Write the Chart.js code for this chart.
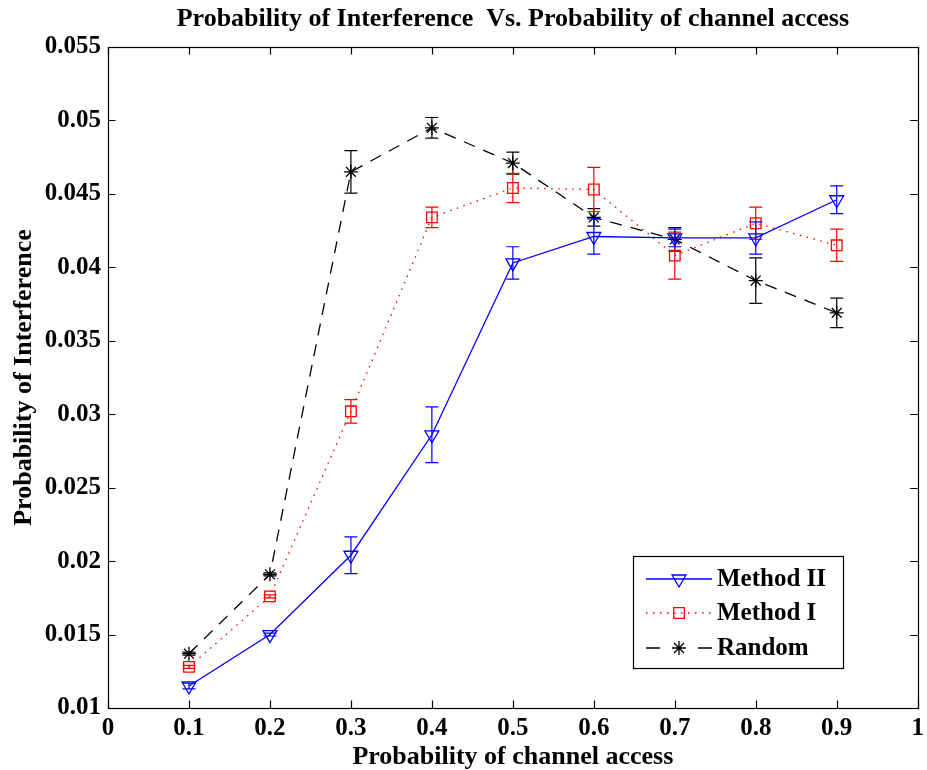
<!DOCTYPE html>
<html>
<head>
<meta charset="utf-8">
<script src="https://cdn.jsdelivr.net/npm/chart.js@4/dist/chart.umd.min.js"></script>
<style>
  html, body { margin: 0; padding: 0; background: #ffffff; }
  #wrap { width: 927px; height: 770px; }
</style>
</head>
<body>
<div id="wrap"><canvas id="chart" width="927" height="770"></canvas></div>
<script>
// Probability of channel access (x values)
const accessProb = [0.1, 0.2, 0.3, 0.4, 0.5, 0.6, 0.7, 0.8, 0.9];

// Mean probability of interference and error-bar half widths per method
const methodII    = [0.0115, 0.0150, 0.0204, 0.0286, 0.0403, 0.0421, 0.0420, 0.0420, 0.0446];
const methodIIErr = [0.0002, 0.0001, 0.00125, 0.0019, 0.0011, 0.0012, 0.0006, 0.0011, 0.00095];

const methodI     = [0.0128, 0.0176, 0.0302, 0.0434, 0.0454, 0.0453, 0.0408, 0.0430, 0.0415];
const methodIErr  = [0.0001, 0.0001, 0.0008, 0.0007, 0.0010, 0.0015, 0.0016, 0.0011, 0.0011];

const random      = [0.0137, 0.0191, 0.0465, 0.0495, 0.0471, 0.0434, 0.0419, 0.0391, 0.0369];
const randomErr   = [0.0001, 0.0001, 0.00145, 0.0007, 0.00075, 0.0006, 0.0008, 0.00155, 0.0010];

const seriesNames = ['Method II', 'Method I', 'Random'];

const FONT = '"Liberation Serif", "Times New Roman", serif';

function toPoints(ys) {
  return accessProb.map((x, i) => ({ x: x, y: ys[i] }));
}

// Vertical error bars with caps, drawn through the chart's own scales
const errorBarPlugin = {
  id: 'errorBars',
  afterDatasetDraw(chart, args) {
    const ds = chart.data.datasets[args.index];
    if (!ds.errors) return;
    const meta = args.meta;
    const yScale = chart.scales.y;
    const ctx = chart.ctx;
    const cap = 6.5;
    ctx.save();
    ctx.strokeStyle = ds.borderColor;
    ctx.lineWidth = 1.2;
    ctx.setLineDash([]);
    meta.data.forEach((pt, i) => {
      const v = ds.data[i].y;
      const e = ds.errors[i];
      const x = pt.x;
      const yTop = yScale.getPixelForValue(v + e);
      const yBot = yScale.getPixelForValue(v - e);
      ctx.beginPath();
      ctx.moveTo(x, yTop); ctx.lineTo(x, yBot);
      ctx.moveTo(x - cap, yTop); ctx.lineTo(x + cap, yTop);
      ctx.moveTo(x - cap, yBot); ctx.lineTo(x + cap, yBot);
      ctx.stroke();
    });
    ctx.restore();
  }
};

// Axes box with inward tick marks on all four sides
const boxPlugin = {
  id: 'axesBox',
  afterDraw(chart) {
    const { ctx, chartArea: a, scales } = chart;
    const tl = 7.5;
    ctx.save();
    ctx.strokeStyle = '#000';
    ctx.lineWidth = 1.2;
    ctx.setLineDash([]);
    ctx.beginPath();
    scales.x.ticks.forEach(t => {
      const px = Math.round(scales.x.getPixelForValue(t.value)) + 0.5;
      ctx.moveTo(px, a.bottom); ctx.lineTo(px, a.bottom - tl);
      ctx.moveTo(px, a.top); ctx.lineTo(px, a.top + tl);
    });
    scales.y.ticks.forEach(t => {
      const py = Math.round(scales.y.getPixelForValue(t.value)) + 0.5;
      ctx.moveTo(a.left, py); ctx.lineTo(a.left + tl, py);
      ctx.moveTo(a.right, py); ctx.lineTo(a.right - tl, py);
    });
    ctx.stroke();
    ctx.strokeRect(Math.round(a.left) + 0.5, Math.round(a.top) + 0.5,
                   Math.round(a.right - a.left), Math.round(a.bottom - a.top));
    ctx.restore();
  }
};

// Boxed legend inside the lower right of the plot area
const legendBoxPlugin = {
  id: 'legendBox',
  afterDraw(chart) {
    const ctx = chart.ctx;
    const bx = 633, by = 556, bw = 210, bh = 112;
    const rows = [579, 613, 648];
    ctx.save();
    ctx.fillStyle = '#fff';
    ctx.fillRect(bx, by, bw, bh);
    ctx.strokeStyle = '#000';
    ctx.lineWidth = 1.2;
    ctx.setLineDash([]);
    ctx.strokeRect(bx + 0.5, by + 0.5, bw, bh);
    chart.data.datasets.forEach((ds, i) => {
      const y = rows[i];
      ctx.strokeStyle = ds.borderColor;
      ctx.lineWidth = ds.borderWidth;
      ctx.setLineDash(ds.legendDash || ds.borderDash || []);
      ctx.beginPath();
      ctx.moveTo(646, y); ctx.lineTo(712, y);
      ctx.stroke();
      ctx.setLineDash([]);
      ctx.fillStyle = 'rgba(0,0,0,0)';
      ctx.strokeStyle = ds.borderColor;
      ctx.lineWidth = ds.pointBorderWidth;
      Chart.helpers.drawPoint(ctx, {
        pointStyle: ds.pointStyle,
        rotation: ds.pointRotation || 0,
        radius: ds.pointRadius,
        borderWidth: ds.pointBorderWidth
      }, 679, y);
      ctx.fillStyle = '#000';
      ctx.font = 'bold 25px ' + FONT;
      ctx.textAlign = 'left';
      ctx.textBaseline = 'middle';
      ctx.fillText(ds.label, 717, y + 1);
    });
    ctx.restore();
  }
};

const fmt = (v, d) => String(Number(v.toFixed(d)));

new Chart(document.getElementById('chart'), {
  type: 'line',
  data: {
    datasets: [
      {
        label: seriesNames[0],
        data: toPoints(methodII),
        errors: methodIIErr,
        borderColor: '#0000ff',
        backgroundColor: 'rgba(0,0,0,0)',
        borderWidth: 1.3,
        pointStyle: 'triangle',
        pointRotation: 180,
        pointRadius: 8,
        pointBorderWidth: 1.3,
        pointBackgroundColor: 'rgba(0,0,0,0)',
        tension: 0
      },
      {
        label: seriesNames[1],
        data: toPoints(methodI),
        errors: methodIErr,
        borderColor: '#ff0000',
        backgroundColor: 'rgba(0,0,0,0)',
        borderWidth: 1.3,
        borderDash: [1.5, 5.5],
        pointStyle: 'rect',
        pointRadius: 7.5,
        pointBorderWidth: 1.3,
        pointBackgroundColor: 'rgba(0,0,0,0)',
        tension: 0
      },
      {
        label: seriesNames[2],
        data: toPoints(random),
        errors: randomErr,
        borderColor: '#000000',
        backgroundColor: 'rgba(0,0,0,0)',
        borderWidth: 1.3,
        borderDash: [12, 9],
        legendDash: [14, 38],
        pointStyle: 'star',
        pointRadius: 7,
        pointBorderWidth: 1.3,
        pointBackgroundColor: 'rgba(0,0,0,0)',
        tension: 0
      }
    ]
  },
  options: {
    responsive: false,
    animation: false,
    devicePixelRatio: 1,
    layout: { padding: { left: 0, right: 0, top: 0, bottom: 0 } },
    plugins: {
      legend: { display: false },
      tooltip: { enabled: false },
      title: {
        display: true,
        fullSize: false,
        text: 'Probability of Interference  Vs. Probability of channel access',
        color: '#000',
        font: { family: FONT, size: 26, weight: 'bold', lineHeight: 1 },
        padding: { top: 6, bottom: 15 }
      }
    },
    scales: {
      x: {
        type: 'linear',
        min: 0, max: 1,
        afterFit: s => { s.height = 62; s.paddingRight = 7; s.paddingLeft = 0; },
        border: { display: false },
        grid: { display: false, drawTicks: false },
        ticks: {
          stepSize: 0.1,
          padding: 6,
          color: '#000',
          maxRotation: 0,
          autoSkip: false,
          font: { family: FONT, size: 25, weight: 'bold' },
          callback: v => fmt(v, 1)
        },
        title: {
          display: true,
          text: 'Probability of channel access',
          color: '#000',
          font: { family: FONT, size: 26, weight: 'bold', lineHeight: 1 },
          padding: { top: 0, bottom: 0 }
        }
      },
      y: {
        type: 'linear',
        min: 0.01, max: 0.055,
        afterFit: s => { s.width = 108; },
        border: { display: false },
        grid: { display: false, drawTicks: false },
        ticks: {
          stepSize: 0.005,
          padding: 7,
          color: '#000',
          autoSkip: false,
          font: { family: FONT, size: 25, weight: 'bold' },
          callback: v => fmt(v, 3)
        },
        title: {
          display: true,
          text: 'Probability of Interference',
          color: '#000',
          font: { family: FONT, size: 26, weight: 'bold', lineHeight: 1 },
          padding: { top: 11, bottom: 0 }
        }
      }
    }
  },
  plugins: [errorBarPlugin, boxPlugin, legendBoxPlugin]
});
</script>
</body>
</html>
